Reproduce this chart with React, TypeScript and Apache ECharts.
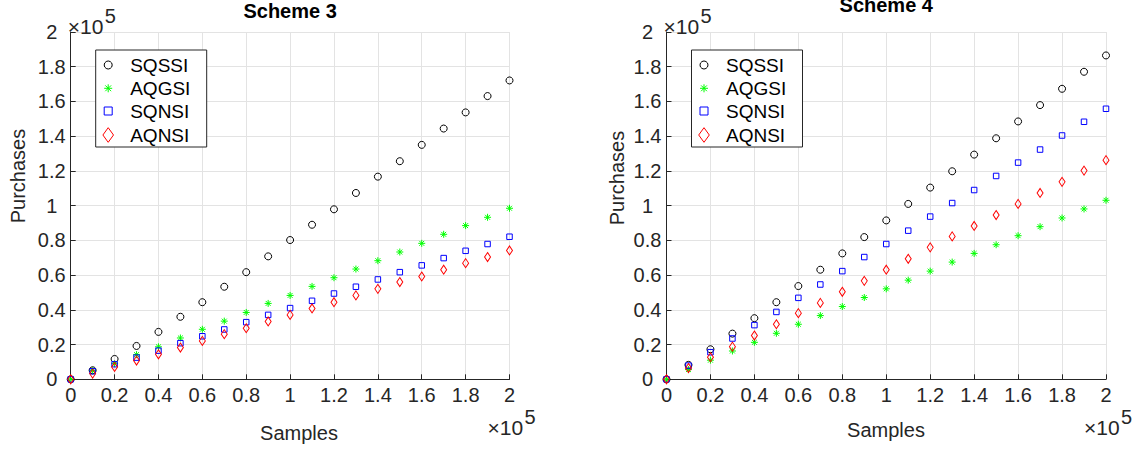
import React, { useEffect, useRef } from "react";
import * as echarts from "echarts";

// Samples (x), actual values
const samples = [0, 10000, 20000, 30000, 40000, 50000, 60000, 70000, 80000, 90000, 100000, 110000, 120000, 130000, 140000, 150000, 160000, 170000, 180000, 190000, 200000];

// Scheme 3 purchases
const s3SQSSI = [0, 5200, 11700, 19200, 27300, 36000, 44400, 53300, 61700, 70800, 80200, 89000, 97900, 107300, 116700, 125600, 135000, 144400, 153700, 163100, 172100];
const s3AQGSI = [0, 5000, 9000, 14200, 18700, 23800, 28800, 33500, 38500, 43700, 48300, 53500, 58500, 63500, 68300, 73300, 78300, 83500, 88500, 93300, 98500];
const s3SQNSI = [0, 4600, 8700, 12500, 16500, 20800, 24800, 28700, 32900, 37100, 41000, 45200, 49400, 53300, 57500, 61700, 65600, 69800, 74000, 77900, 82100];
const s3AQNSI = [0, 3300, 7100, 10800, 14400, 18300, 22100, 26000, 29400, 33300, 37100, 40800, 44400, 48300, 52100, 56000, 59200, 63100, 66900, 70400, 74200];

// Scheme 4 purchases
const s4SQSSI = [0, 8300, 17300, 26300, 35200, 44400, 53700, 63100, 72500, 81900, 91500, 101000, 110400, 119800, 129400, 138800, 148500, 157900, 167300, 177100, 186500];
const s4AQGSI = [0, 5600, 11000, 16300, 21300, 26500, 31700, 36700, 41900, 47100, 52100, 57100, 62300, 67500, 72500, 77500, 82700, 87900, 92900, 98100, 103100];
const s4SQNSI = [0, 7900, 15600, 23500, 31200, 38800, 46900, 54600, 62300, 70400, 77900, 85600, 93700, 101500, 109000, 117100, 124800, 132300, 140400, 148300, 155800];
const s4AQNSI = [0, 6500, 12700, 18800, 25200, 31700, 38100, 44000, 50400, 56700, 63100, 69400, 76000, 82300, 88300, 94600, 101000, 107300, 113700, 120200, 126200];

const seriesNames = ["SQSSI", "AQGSI", "SQNSI", "AQNSI"];
const titles = ["Scheme 3", "Scheme 4"];
const xName = "Samples";
const yName = "Purchases";

const FONT = "'Liberation Sans', Arial, Helvetica, sans-serif";
const AX = "#262626";
const GRID = "#e3e3e3";

const COLORS = ["#000000", "#00ff00", "#0000ff", "#ff0000"];
const ASTER = "path://M4,0L4,8M0,4L8,4M1.2,1.2L6.8,6.8M6.8,1.2L1.2,6.8";

const fmt = (v: number) => String(parseFloat((v / 1e5).toFixed(1)));

function pairs(ys: number[]) {
  return samples.map((x, i) => [x, ys[i]]);
}

export default function App() {
  const ref = useRef<HTMLDivElement>(null);
  useEffect(() => {
    if (!ref.current) return;
    const chart = echarts.init(ref.current, undefined, { renderer: "svg" });

    const grids = [
      { left: 70.7, top: 32, width: 438.8, height: 347.3 },
      { left: 666.5, top: 32, width: 439.5, height: 347.3 },
    ];

    const xAxes = grids.map((_, i) => ({
      type: "value",
      gridIndex: i,
      min: 0,
      max: 200000,
      interval: 20000,
      axisLine: { show: true, onZero: false, lineStyle: { color: AX, width: 1 } },
      axisTick: { show: true, inside: true, length: 5, lineStyle: { color: AX } },
      axisLabel: { formatter: fmt, fontFamily: FONT, fontSize: 20, color: AX, margin: 6 },
      splitLine: { show: true, lineStyle: { color: GRID, width: 1 } },
    }));
    const yAxes = grids.map((_, i) => ({
      type: "value",
      gridIndex: i,
      min: 0,
      max: 200000,
      interval: 20000,
      axisLine: { show: true, onZero: false, lineStyle: { color: AX, width: 1 } },
      axisTick: { show: true, inside: true, length: 5, lineStyle: { color: AX } },
      axisLabel: { formatter: fmt, fontFamily: FONT, fontSize: 20, color: AX, margin: 19, align: "center" },
      splitLine: { show: true, lineStyle: { color: GRID, width: 1 } },
    }));

    const data = [
      [s3SQSSI, s3AQGSI, s3SQNSI, s3AQNSI],
      [s4SQSSI, s4AQGSI, s4SQNSI, s4AQNSI],
    ];
    const symbols: any[] = ["circle", ASTER, "rect", "diamond"];
    const sizes: any[] = [7, 7, 5.5, [6, 9]];

    const series: any[] = [];
    data.forEach((set, gi) => {
      set.forEach((ys, si) => {
        series.push({
          type: "scatter",
          name: seriesNames[si],
          xAxisIndex: gi,
          yAxisIndex: gi,
          data: pairs(ys),
          symbol: symbols[si],
          symbolSize: sizes[si],
          itemStyle: { color: "rgba(0,0,0,0)", borderColor: COLORS[si], borderWidth: 1, opacity: 1 },
          emphasis: { disabled: true },
          z: 2 + si,
        });
      });
    });

    const txt = (text: string, x: number, y: number, size: number, opts: any = {}) => ({
      type: "text",
      x,
      y,
      rotation: opts.rotation || 0,
      z: 100,
      style: {
        text,
        x: 0,
        y: 0,
        fill: opts.fill || AX,
        font: `${opts.bold ? "bold " : ""}${size}px ${FONT}`,
        textAlign: opts.align || "left",
        align: opts.align || "left",
        textVerticalAlign: "middle",
        verticalAlign: "middle",
      },
    });

    const graphics: any[] = [];
    const titleY = [11, 5];
    const yNamePos = [[18, 176], [617, 178]];
    const xNamePos = [[299, 433], [886, 430]];
    grids.forEach((g, gi) => {
      const right = g.left + g.width;
      graphics.push(txt(titles[gi], g.left + g.width / 2, titleY[gi], 20, { bold: true, fill: "#000", align: "center" }));
      graphics.push(txt(yName, yNamePos[gi][0], yNamePos[gi][1], 20, { align: "center", rotation: Math.PI / 2 }));
      graphics.push(txt(xName, xNamePos[gi][0], xNamePos[gi][1], 20, { align: "center" }));
      // exponent labels
      graphics.push(txt("\u00d710", g.left - 3, 26, 21));
      graphics.push(txt("5", g.left + 34, 16, 20));
      graphics.push(txt("\u00d710", right - 22, 427, 21));
      graphics.push(txt("5", right + 15, 416.5, 20));

      // legend
      const bx = g.left + 25;
      const by = 50;
      graphics.push({
        type: "rect",
        z: 99,
        shape: { x: bx, y: by, width: 111, height: 97 },
        style: { fill: "#ffffff", stroke: AX, lineWidth: 1 },
      });
      const mx = bx + 12.5;
      const rows = [65, 88.3, 111, 135];
      const stroke = (c: string) => ({ fill: "none", stroke: c, lineWidth: 1 });
      graphics.push({ type: "circle", z: 101, shape: { cx: mx, cy: rows[0], r: 4 }, style: stroke(COLORS[0]) });
      const a = 4;
      const d = 2.9;
      [[0, -a, 0, a], [-a, 0, a, 0], [-d, -d, d, d], [d, -d, -d, d]].forEach((s) => {
        graphics.push({
          type: "line",
          z: 101,
          shape: { x1: mx + s[0], y1: rows[1] + s[1], x2: mx + s[2], y2: rows[1] + s[3] },
          style: stroke(COLORS[1]),
        });
      });
      graphics.push({ type: "rect", z: 101, shape: { x: mx - 4, y: rows[2] - 4, width: 8, height: 8 }, style: stroke(COLORS[2]) });
      graphics.push({
        type: "polygon",
        z: 101,
        shape: { points: [[mx, rows[3] - 7.3], [mx + 5.3, rows[3]], [mx, rows[3] + 7.3], [mx - 5.3, rows[3]]] },
        style: stroke(COLORS[3]),
      });
      seriesNames.forEach((n, i) => {
        graphics.push(txt(n, bx + 34.5, rows[i], 19, { fill: "#000" }));
      });
    });

    chart.setOption({
      animation: false,
      backgroundColor: "#ffffff",
      grid: grids,
      xAxis: xAxes,
      yAxis: yAxes,
      series,
      graphic: { elements: graphics },
    });
    return () => chart.dispose();
  }, []);
  return (
    <div
      ref={ref}
      style={{ position: "fixed", left: 0, top: 0, width: 1142, height: 450, background: "#fff" }}
    />
  );
}
